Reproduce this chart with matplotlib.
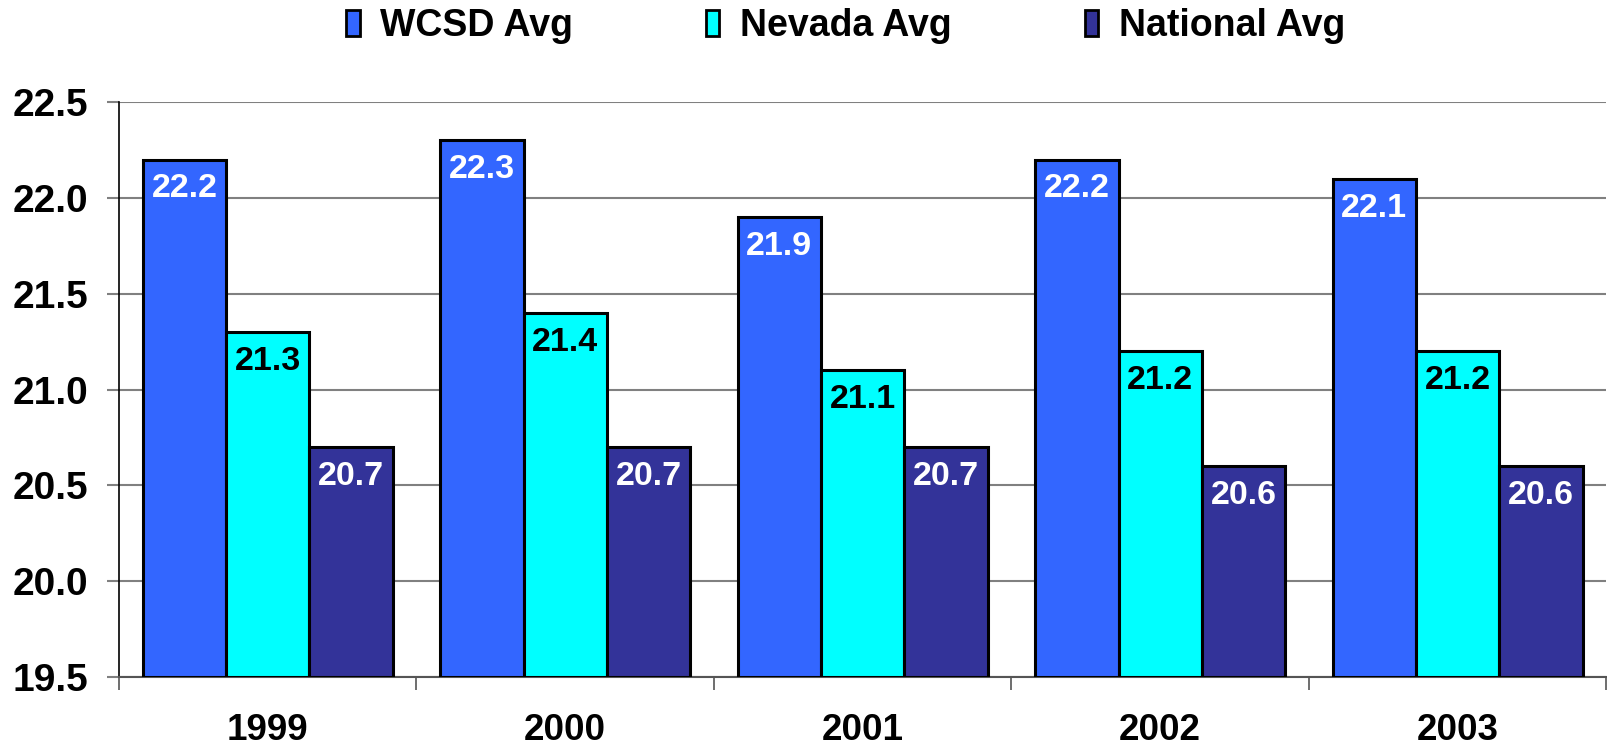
import matplotlib
matplotlib.use("Agg")
import matplotlib.pyplot as plt
import numpy as np
from matplotlib.ticker import FixedLocator, MultipleLocator, FormatStrFormatter

years = ["1999", "2000", "2001", "2002", "2003"]
series_names = ["WCSD Avg", "Nevada Avg", "National Avg"]
wcsd = [22.2, 22.3, 21.9, 22.2, 22.1]
nevada = [21.3, 21.4, 21.1, 21.2, 21.2]
national = [20.7, 20.7, 20.7, 20.6, 20.6]

colors = ["#3366FF", "#00FFFF", "#333399"]
label_colors = ["white", "black", "white"]

plt.rcParams['font.family'] = ['Liberation Sans', 'DejaVu Sans']
plt.rcParams['font.weight'] = 'bold'

fig = plt.figure(figsize=(16.08, 7.49), dpi=100)
ax = fig.add_axes([119/1608, 1 - 677/749, 1 - 119/1608 - 0.001, (677 - 102)/749])

x = np.arange(len(years))
width = 0.28
base = 19.5
for i, (vals, c, lc, name) in enumerate(zip([wcsd, nevada, national], colors, label_colors, series_names)):
    pos = x + (i - 1) * width
    heights = [v - base for v in vals]
    bars = ax.bar(pos, heights, width, bottom=base, color=c, edgecolor="black",
                  linewidth=2.2, label=name, zorder=3)
    for b, v in zip(bars, vals):
        ax.annotate(f"{v:.1f}", (b.get_x() + b.get_width() / 2, v),
                    xytext=(0, -10), textcoords="offset points",
                    ha="center", va="top", color=lc, fontsize=24.5,
                    fontweight="bold", zorder=4)

ax.set_xlim(-0.5, len(years) - 0.5)
ax.set_ylim(19.5, 22.5)
ax.yaxis.set_major_locator(MultipleLocator(0.5))
ax.yaxis.set_major_formatter(FormatStrFormatter("%.1f"))
ax.grid(axis="y", color="#808080", linewidth=1.5, zorder=0)
ax.set_axisbelow(True)

ax.set_xticks(x)
ax.set_xticklabels(years)
ax.xaxis.set_minor_locator(FixedLocator(np.arange(-0.5, len(years), 1.0)))
ax.tick_params(axis="x", which="major", length=0, pad=26, labelsize=26.5)
ax.tick_params(axis="x", which="minor", length=9, width=1.2, color="#555555")
ax.tick_params(axis="y", which="major", length=9, width=1.5, color="#808080",
               pad=13, labelsize=28)
for lab in ax.get_xticklabels() + ax.get_yticklabels():
    lab.set_fontweight("bold")

ax.spines["top"].set_visible(False)
ax.spines["right"].set_visible(False)
ax.spines["left"].set_color("black")
ax.spines["left"].set_linewidth(1.2)
ax.spines["bottom"].set_color("#555555")
ax.spines["bottom"].set_linewidth(1.5)

leg = fig.legend(loc="center", bbox_to_anchor=(0.526, 1 - 26/749), ncol=3,
                 frameon=False, fontsize=27, handlelength=0.35, handleheight=0.7,
                 columnspacing=3.55, handletextpad=0.55)
for t in leg.get_texts():
    t.set_fontweight("bold")
for h in leg.legend_handles:
    h.set_linewidth(2)

fig.savefig("out.png", dpi=100)
